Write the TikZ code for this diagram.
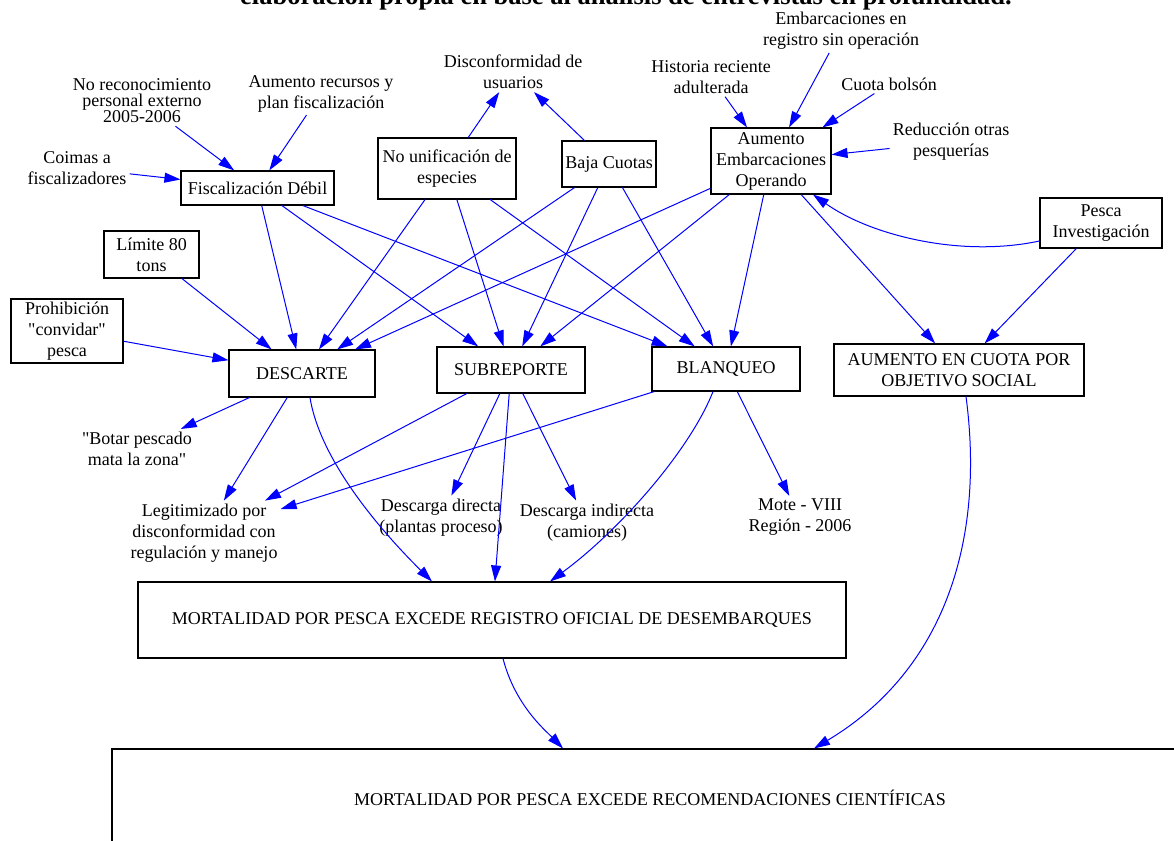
\documentclass[tikz,border=0pt]{standalone}
\usepackage{fontspec}
\setmainfont{Liberation Serif}[Ligatures=TeXOff]
\usepackage{tikz}
\usetikzlibrary{arrows.meta}
\usepackage{xcolor}
\definecolor{linkblue}{RGB}{0,0,255}
\newcommand{\vfont}{\fontsize{18}{21}\selectfont}
\tikzset{
  box/.style={rectangle, draw=black, line width=1.1pt, align=center, font=\vfont, inner sep=2pt},
  txt/.style={align=center, font=\vfont, inner sep=3pt},
  arrow/.style={-{Triangle[length=16pt,width=10pt]}, line width=1pt, linkblue},
}

\begin{document}
\begin{tikzpicture}[x=1pt, y=-1pt]
\useasboundingbox (0,0) rectangle (1174,840);
% caption, only its lower edge falls on the page
\node[anchor=base, font=\fontsize{26.5}{30}\selectfont\bfseries] (caption) at (626,5)
  {elaboración propia en base al análisis de entrevistas en profundidad.};

% boxed variables
\node[box, minimum width=153pt, minimum height=34pt] (fisc) at (257.5,188) {Fiscalización Débil};
\node[box, minimum width=138pt, minimum height=61pt] (nounif) at (447,168.5) {No unificación de\\especies};
\node[box, minimum width=94pt, minimum height=46pt] (baja) at (609,164) {Baja Cuotas};
\node[box, minimum width=120pt, minimum height=66pt] (aumemb) at (771,161) {Aumento\\Embarcaciones\\Operando};
\node[box, minimum width=122pt, minimum height=50pt] (pesca) at (1101,223) {Pesca\\Investigación};
\node[box, minimum width=95pt, minimum height=47pt] (limite) at (151.5,254.5) {Límite 80\\tons};
\node[box, minimum width=112pt, minimum height=64pt] (prohib) at (67,331) {Prohibición\\"convidar"\\pesca};
\node[box, minimum width=146pt, minimum height=47pt] (descarte) at (302,373.5) {DESCARTE};
\node[box, minimum width=148pt, minimum height=46pt] (subrep) at (511,370) {SUBREPORTE};
\node[box, minimum width=148pt, minimum height=44pt] (blanq) at (726,369) {BLANQUEO};
\node[box, minimum width=250pt, minimum height=52pt] (cuotasoc) at (959,370) {AUMENTO EN CUOTA POR\\OBJETIVO SOCIAL};
\node[box, minimum width=708pt, minimum height=76pt] (mort1) at (492,620) {MORTALIDAD POR PESCA EXCEDE REGISTRO OFICIAL DE DESEMBARQUES};
\node[box, minimum width=1076pt, minimum height=98pt] (mort2) at (650,798) {MORTALIDAD POR PESCA EXCEDE RECOMENDACIONES CIENTÍFICAS};

% free text variables
\node[txt] (coimas) at (77,168) {Coimas a\\fiscalizadores};
\node[txt, font=\fontsize{18}{16}\selectfont] (norecon) at (142,101) {No reconocimiento\\personal externo\\2005-2006};
\node[txt] (aumrec) at (321,93.5) {Aumento recursos y\\plan fiscalización};
\node[txt] (discon) at (513,72) {Disconformidad de\\usuarios};
\node[txt] (historia) at (711,77) {Historia reciente\\adulterada};
\node[txt] (embreg) at (841,31) {Embarcaciones en\\registro sin operación};
\node[txt] (cuotab) at (889,84) {Cuota bolsón};
\node[txt] (reduc) at (951,142) {Reducción otras\\pesquerías};
\node[txt] (botar) at (137,449) {"Botar pescado\\mata la zona"};
\node[txt] (legit) at (204,533) {Legitimizado por\\disconformidad con\\regulación y manejo};
\node[txt] (descdir) at (441,517.5) {Descarga directa\\(plantas proceso)};
\node[txt] (descind) at (587,522.5) {Descarga indirecta\\(camiones)};
\node[txt] (mote) at (800,517.5) {Mote - VIII\\Región - 2006};

% straight links
\foreach \a/\b in {coimas/fisc, norecon/fisc, aumrec/fisc, nounif/discon, baja/discon,
    historia/aumemb, embreg/aumemb, cuotab/aumemb, reduc/aumemb,
    limite/descarte, prohib/descarte, fisc/descarte, fisc/subrep, fisc/blanq,
    nounif/descarte, nounif/subrep, nounif/blanq, baja/descarte, baja/subrep, baja/blanq,
    aumemb/descarte, aumemb/subrep, aumemb/blanq, aumemb/cuotasoc, pesca/cuotasoc,
    descarte/botar, descarte/legit, subrep/legit, blanq/legit,
    subrep/descdir, subrep/mort1, subrep/descind, blanq/mote}
  \draw[arrow] (\a) -- (\b);

% curved links
\draw[arrow] ([yshift=-18pt]pesca.west) .. controls (960,258) and (870,235) .. ([xshift=42pt]aumemb.south);
\draw[arrow] ([xshift=8pt]descarte.south) .. controls (320,460) and (380,530) .. ([xshift=-60pt]mort1.north);
\draw[arrow] ([xshift=-13pt]blanq.south) .. controls (690,450) and (620,530) .. ([xshift=58pt]mort1.north);
\draw[arrow] ([xshift=11pt]mort1.south) .. controls (515,705) and (545,730) .. ([xshift=-87pt]mort2.north);
\draw[arrow] ([xshift=7pt]cuotasoc.south) .. controls (985,540) and (945,670) .. ([xshift=164pt]mort2.north);
\end{tikzpicture}
\end{document}
